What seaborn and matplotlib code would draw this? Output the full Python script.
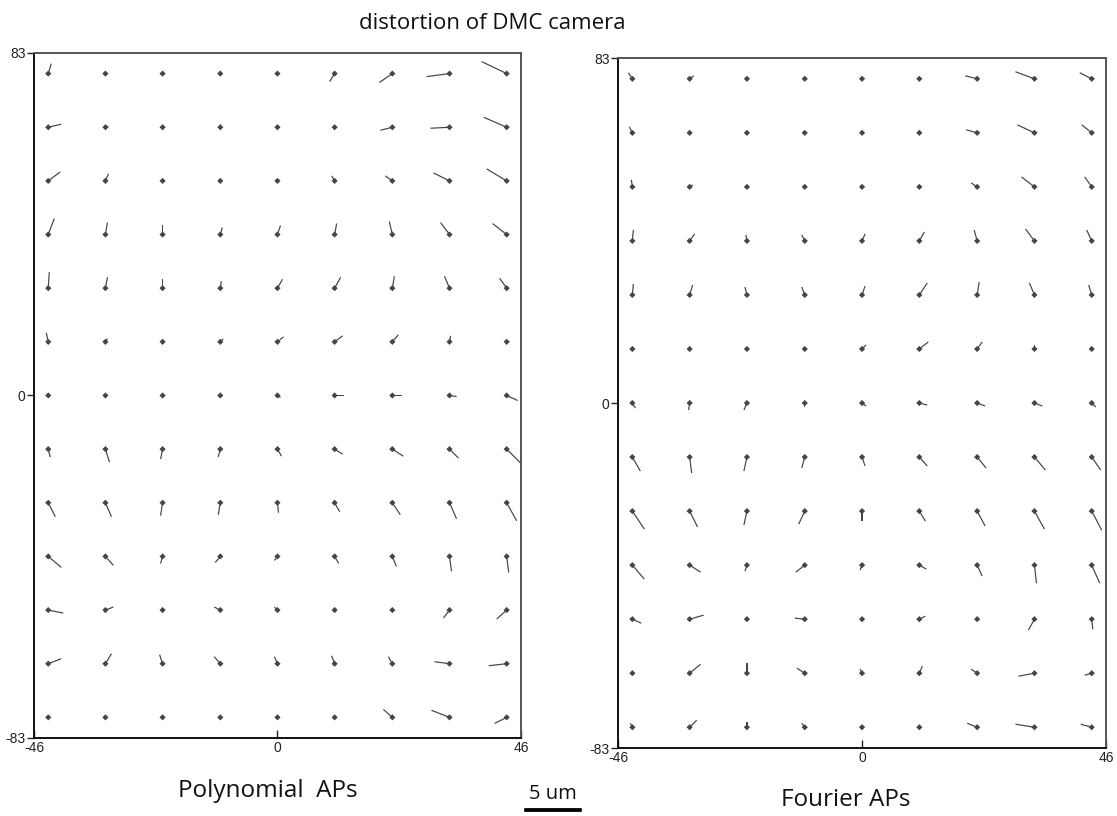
import numpy as np
import pandas as pd
import matplotlib
matplotlib.use("Agg")
import matplotlib.pyplot as plt
import seaborn as sns

# Image-grid nodes (mm on the image plane)
x_nodes = [-43.3, -32.5, -21.7, -10.8, 0.0, 10.8, 21.7, 32.5, 43.3]
y_nodes = [78, 65, 52, 39, 26, 13, 0, -13, -26, -39, -52, -65, -78]

# Residual distortion per node in um, one list per grid row (top to bottom)
poly_dx = [
    [0.27, 0.0, -0.18, 0.18, 0.0, -0.45, -1.16, -2.05, -2.23],
    [1.16, 0.27, 0.0, 0.0, 0.0, -0.09, -1.07, -1.70, -2.05],
    [1.07, 0.27, -0.09, 0.0, 0.0, -0.27, -0.63, -1.43, -1.79],
    [0.54, 0.18, 0.0, 0.18, 0.27, 0.18, -0.27, -0.80, -1.25],
    [0.09, 0.18, 0.0, 0.09, 0.45, 0.54, 0.18, -0.45, -0.63],
    [-0.18, 0.18, -0.09, 0.27, 0.54, 0.71, 0.54, 0.09, 0.0],
    [0.0, 0.0, 0.0, 0.0, 0.27, 0.80, 0.89, 0.63, 0.98],
    [0.18, 0.36, -0.18, -0.18, 0.36, 0.71, 0.98, 0.80, 1.25],
    [0.63, 0.54, -0.18, -0.18, 0.09, 0.45, 0.71, 0.63, 0.89],
    [1.16, 0.71, -0.18, -0.45, -0.27, 0.36, 0.36, 0.18, 0.18],
    [1.34, 0.71, 0.0, -0.54, -0.27, 0.0, 0.0, -0.54, -0.89],
    [1.16, 0.54, -0.27, -0.54, -0.27, -0.27, -0.36, -1.34, -1.61],
    [0.0, 0.0, 0.0, 0.0, 0.0, 0.0, -0.80, -1.61, -1.07],
]
poly_dy = [
    [0.89, 0.0, -0.09, 0.0, -0.09, -0.71, -0.80, -0.27, 1.07],
    [0.27, 0.09, 0.0, 0.0, 0.0, 0.09, -0.27, -0.09, 0.89],
    [0.80, 0.63, 0.09, 0.0, 0.0, 0.45, 0.45, 0.71, 1.07],
    [1.43, 1.07, 0.89, 0.63, 0.80, 0.98, 1.16, 1.07, 0.98],
    [1.43, 0.98, 0.80, 0.63, 0.80, 0.98, 1.07, 1.07, 0.89],
    [0.80, 0.27, 0.09, 0.27, 0.45, 0.54, 0.63, 0.54, 0.0],
    [0.0, 0.0, 0.0, 0.0, -0.18, 0.0, 0.0, -0.09, -0.45],
    [-0.71, -1.16, -0.89, -0.71, -0.63, -0.45, -0.63, -0.80, -1.25],
    [-1.25, -1.25, -1.16, -1.07, -0.89, -0.80, -1.07, -1.43, -1.61],
    [-0.98, -0.80, -0.63, -0.54, -0.36, -0.63, -0.89, -1.34, -1.43],
    [-0.27, 0.27, 0.0, 0.27, 0.27, 0.0, 0.0, -0.71, -0.80],
    [0.45, 0.89, 0.80, 0.63, 0.63, 0.71, 0.63, 0.18, -0.18],
    [0.0, 0.0, 0.0, 0.0, 0.0, 0.0, 0.71, 0.63, -0.54],
]
fourier_dx = [
    [-0.36, 0.36, 0.0, 0.0, 0.0, 0.0, -1.07, -1.70, -1.07],
    [-0.27, 0.0, 0.0, 0.0, 0.0, 0.0, -0.98, -1.52, -0.89],
    [-0.09, 0.27, 0.0, 0.0, 0.0, 0.0, -0.54, -1.16, -0.63],
    [0.09, 0.45, -0.09, -0.27, 0.27, 0.45, -0.27, -0.80, -0.45],
    [0.09, 0.27, -0.18, -0.27, 0.27, 0.71, 0.18, -0.45, -0.27],
    [0.0, 0.0, 0.0, 0.0, 0.36, 0.80, 0.45, 0.0, 0.0],
    [0.27, -0.09, -0.27, 0.0, 0.36, 0.71, 0.71, 0.71, 0.36],
    [0.71, 0.18, -0.27, -0.27, 0.27, 0.71, 0.80, 0.98, 0.80],
    [1.07, 0.71, -0.27, -0.54, 0.0, 0.54, 0.71, 0.89, 0.89],
    [1.07, 0.98, -0.18, -0.80, -0.18, 0.63, 0.45, 0.18, 0.71],
    [0.80, 1.25, 0.0, -0.89, 0.0, 0.54, 0.0, -0.54, 0.09],
    [0.0, 0.98, 0.0, -0.71, -0.18, 0.27, -0.54, -1.43, -0.63],
    [-0.18, 0.63, 0.0, -0.27, 0.0, 0.0, -0.89, -1.70, -0.98],
]
fourier_dy = [
    [0.54, 0.27, 0.0, 0.0, 0.0, 0.0, 0.27, 0.63, 0.54],
    [0.54, 0.0, 0.0, 0.0, 0.0, 0.0, 0.27, 0.71, 0.71],
    [0.63, 0.18, 0.0, 0.0, 0.0, 0.0, 0.36, 0.89, 0.89],
    [0.98, 0.63, 0.54, 0.54, 0.63, 0.80, 0.98, 1.07, 0.98],
    [0.98, 0.89, 0.71, 0.71, 0.80, 1.07, 1.16, 1.07, 0.89],
    [0.0, 0.0, 0.0, 0.0, 0.36, 0.63, 0.63, 0.36, 0.0],
    [-0.45, -0.63, -0.63, -0.36, -0.27, -0.18, -0.27, -0.27, -0.36],
    [-1.25, -1.43, -1.25, -0.98, -0.80, -0.80, -0.98, -1.16, -1.16],
    [-1.61, -1.43, -1.25, -1.16, -0.89, -0.89, -1.34, -1.61, -1.70],
    [-1.25, -0.63, -0.54, -0.63, -0.45, -0.36, -0.98, -1.61, -1.61],
    [-0.36, 0.36, 0.0, 0.09, 0.0, 0.27, 0.0, -0.98, -0.89],
    [0.0, 0.80, 0.89, 0.45, 0.36, 0.63, 0.36, -0.27, -0.18],
    [0.36, 0.63, 0.45, 0.36, 0.0, 0.0, 0.36, 0.27, 0.27],
]

panel_titles = ["Polynomial  APs", "Fourier APs"]
x_ticks = [-46, 0, 46]
y_ticks = [-83, 0, 83]
scale_bar_um = 5
um_per_inch = 8.93  # vector scale on the page


def to_frame(dx, dy, method):
    gx, gy = np.meshgrid(x_nodes, y_nodes)
    return pd.DataFrame({
        "x": gx.ravel(), "y": gy.ravel(),
        "dx": np.asarray(dx).ravel(), "dy": np.asarray(dy).ravel(),
        "method": method,
    })


df = pd.concat([to_frame(poly_dx, poly_dy, panel_titles[0]),
                to_frame(fourier_dx, fourier_dy, panel_titles[1])],
               ignore_index=True)

sns.set_theme(style="white")
plt.rcParams["font.family"] = ["Liberation Sans", "DejaVu Sans"]

fig = plt.figure(figsize=(11.17, 8.16), dpi=100)
axes = [fig.add_axes([0.0304, 0.0956, 0.4360, 0.8395]),
        fig.add_axes([0.5533, 0.0833, 0.4369, 0.8456])]

ink = "#454545"
quivers = []
for ax, name in zip(axes, panel_titles):
    sub = df[df["method"] == name]
    q = ax.quiver(sub["x"], sub["y"], sub["dx"], sub["dy"],
                  angles="uv", scale_units="inches", scale=um_per_inch,
                  pivot="tail", units="dots", width=1.2,
                  headwidth=0, headlength=0, headaxislength=0,
                  color=ink, zorder=3)
    quivers.append(q)
    sns.scatterplot(data=sub, x="x", y="y", ax=ax, marker="D", s=10,
                    color=ink, edgecolor="none", linewidth=0, zorder=4,
                    legend=False)
    ax.set_xlim(-46, 46)
    ax.set_ylim(-83, 83)
    ax.set_xticks(x_ticks)
    ax.set_yticks(y_ticks)
    ax.set_xticklabels([str(t) for t in x_ticks], fontsize=10)
    ax.set_yticklabels([str(t) for t in y_ticks], fontsize=10)
    ax.tick_params(axis="x", direction="in", length=6, width=1, color="#222222", pad=2,
                   bottom=True, labelcolor="#222222")
    ax.tick_params(axis="y", direction="out", length=5, width=1, color="#222222", pad=1,
                   left=True, labelcolor="#222222")
    ax.set_xlabel("")
    ax.set_ylabel("")
    ax.set_facecolor("white")
    ax.grid(False)
    for side, sp in ax.spines.items():
        sp.set_visible(True)
        sp.set_linewidth(1.4)
        sp.set_color("#111111" if side in ("left", "bottom") else "#555555")

label_font = {"family": ["Open Sans", "DejaVu Sans"], "size": 17.5, "color": "#111111"}
fig.text(0.441, 0.9717, "distortion of DMC camera", ha="center", va="center",
         fontdict={"family": ["Open Sans", "DejaVu Sans"], "size": 16, "color": "#111111"})
fig.text(268 / 1117, 1 - 791 / 816, panel_titles[0], ha="center", va="center",
         fontdict=label_font)
fig.text(846 / 1117, 1 - 800 / 816, panel_titles[1], ha="center", va="center",
         fontdict=label_font)

# 5 um reference bar, drawn with the same vector scale as the panels
axes[0].quiverkey(quivers[0], 553 / 1117, 1 - 810 / 816, scale_bar_um,
                  f"{scale_bar_um} um", coordinates="figure", labelpos="N",
                  labelsep=0.06, color="black", linewidths=1.3, edgecolors="black",
                  labelcolor="#111111",
                  fontproperties={"family": "Open Sans", "size": 14.5})

fig.savefig("out.png", dpi=100, facecolor="white")
